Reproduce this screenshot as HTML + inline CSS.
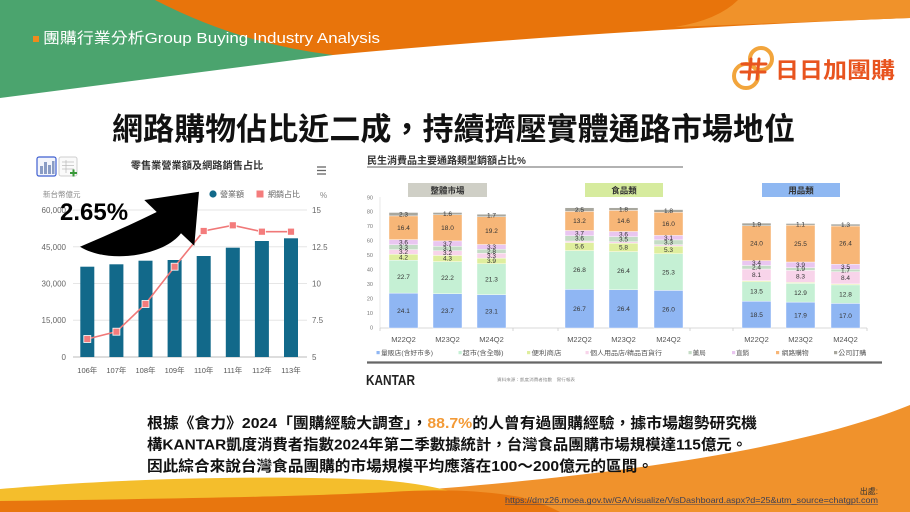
<!DOCTYPE html>
<html>
<head>
<meta charset="utf-8">
<style>
  html,body{margin:0;padding:0;background:#fff;}
  body{width:910px;height:512px;overflow:hidden;}
  svg{display:block;}
  .cjk{font-family:"Liberation Sans","Noto Sans CJK TC",sans-serif;}
</style>
</head>
<body>
<svg width="910" height="512" viewBox="0 0 910 512" xmlns="http://www.w3.org/2000/svg" class="cjk">
  <rect x="0" y="0" width="910" height="512" fill="#ffffff"/>

  <!-- ===== Header background ===== -->
  <path d="M0,0 L340,0 L333,55 L0,98 Z" fill="#4ba46e"/>
  <path d="M155,0 Q240,44 333,55 Q600,30 910,18 L910,0 Z" fill="#e8740b"/>
  <path d="M738,0 Q718,20 675,27 L910,18 L910,0 Z" fill="#f0922a"/>

  <rect x="33" y="36" width="6" height="6" fill="#f08a1c"/>
  <text x="43" y="43" font-size="15" fill="#ffffff" style="font-family:'Liberation Sans','Noto Sans CJK TC',sans-serif;" textLength="337" lengthAdjust="spacingAndGlyphs">團購行業分析Group Buying Industry Analysis</text>

  <!-- Logo -->
  <circle cx="761" cy="59" r="11" fill="none" stroke="#f2a53c" stroke-width="4"/>
  <circle cx="746" cy="76" r="12" fill="none" stroke="#f2a53c" stroke-width="4"/>
  <g stroke="#e8541f" stroke-width="3" stroke-linecap="round">
    <line x1="751" y1="59" x2="749" y2="79"/>
    <line x1="759" y1="59" x2="757" y2="79"/>
    <line x1="742" y1="64" x2="766" y2="64"/>
    <line x1="741" y1="72" x2="765" y2="72"/>
  </g>
  <text x="775" y="78" font-size="22" font-weight="bold" fill="#e8541f" textLength="120" lengthAdjust="spacingAndGlyphs">日日加團購</text>

  <!-- Title -->
  <text x="112" y="140" font-size="31" font-weight="bold" fill="#111" textLength="683" lengthAdjust="spacingAndGlyphs">網路購物佔比近二成，持續擠壓實體通路市場地位</text>

  <!-- ===== Left chart ===== -->
  <rect x="37" y="157" width="19" height="19" rx="2" fill="#f3f5fb" stroke="#3f5fd0" stroke-width="1.2"/>
  <rect x="40" y="166" width="3" height="8" fill="#8a9cc4"/>
  <rect x="44" y="162" width="3" height="12" fill="#8a9cc4"/>
  <rect x="48" y="165" width="3" height="9" fill="#8a9cc4"/>
  <rect x="52" y="161" width="2.5" height="13" fill="#8a9cc4"/>
  <rect x="59" y="157" width="18" height="19" rx="2" fill="#fafafa" stroke="#cfcfcf" stroke-width="1"/>
  <g stroke="#b8b8b8" stroke-width="0.7">
    <line x1="62" y1="162" x2="74" y2="162"/>
    <line x1="62" y1="165.5" x2="74" y2="165.5"/>
    <line x1="62" y1="169" x2="74" y2="169"/>
    <line x1="66" y1="160" x2="66" y2="173"/>
  </g>
  <g stroke="#3a9a3a" stroke-width="2">
    <line x1="70" y1="173" x2="77" y2="173"/>
    <line x1="73.5" y1="169.5" x2="73.5" y2="176.5"/>
  </g>

  <text x="197" y="169" font-size="10.2" font-weight="bold" fill="#333" text-anchor="middle">零售業營業額及網路銷售占比</text>
  <g stroke="#666" stroke-width="1.3">
    <line x1="317" y1="167" x2="326" y2="167"/>
    <line x1="317" y1="170.5" x2="326" y2="170.5"/>
    <line x1="317" y1="174" x2="326" y2="174"/>
  </g>

  <text x="43" y="197" font-size="7.5" fill="#888">新台幣億元</text>
  <text x="320" y="198" font-size="8" fill="#888">%</text>
  <circle cx="213" cy="194" r="3.6" fill="#12698a"/>
  <text x="220" y="197" font-size="8" fill="#666">營業額</text>
  <rect x="256.5" y="190.5" width="7" height="7" fill="#f47c7c"/>
  <text x="268" y="197" font-size="8" fill="#666">網銷占比</text>

  <g stroke="#e6e6e6" stroke-width="1">
    <line x1="73" y1="210" x2="307" y2="210"/>
    <line x1="73" y1="246.75" x2="307" y2="246.75"/>
    <line x1="73" y1="283.5" x2="307" y2="283.5"/>
    <line x1="73" y1="320.25" x2="307" y2="320.25"/>
  </g>
  <line x1="73" y1="357" x2="307" y2="357" stroke="#bbbbbb" stroke-width="1"/>

  <g font-size="8" fill="#666" text-anchor="end">
    <text x="66" y="213">60,000</text>
    <text x="66" y="250">45,000</text>
    <text x="66" y="286.5">30,000</text>
    <text x="66" y="323">15,000</text>
    <text x="66" y="360">0</text>
  </g>
  <g font-size="8" fill="#666">
    <text x="312" y="213">15</text>
    <text x="312" y="250">12.5</text>
    <text x="312" y="286.5">10</text>
    <text x="312" y="323">7.5</text>
    <text x="312" y="360">5</text>
  </g>

  <g fill="#12698a">
    <rect x="80.3" y="266.7" width="14" height="90.3"/>
    <rect x="109.4" y="264.3" width="14" height="92.7"/>
    <rect x="138.5" y="260.7" width="14" height="96.3"/>
    <rect x="167.6" y="260" width="14" height="97"/>
    <rect x="196.7" y="256" width="14" height="101"/>
    <rect x="225.8" y="247.7" width="14" height="109.3"/>
    <rect x="254.9" y="241" width="14" height="116"/>
    <rect x="284" y="238.3" width="14" height="118.7"/>
  </g>
  <polyline points="87.3,339 116.4,331.7 145.5,304 174.6,266.7 203.7,231 232.8,225.3 261.9,231.7 291,231.7" fill="none" stroke="#f07878" stroke-width="1.6"/>
  <g fill="#f47c7c" stroke="#ffffff" stroke-width="0.8">
    <rect x="83.8" y="335.5" width="7" height="7"/>
    <rect x="112.9" y="328.2" width="7" height="7"/>
    <rect x="142" y="300.5" width="7" height="7"/>
    <rect x="171.1" y="263.2" width="7" height="7"/>
    <rect x="200.2" y="227.5" width="7" height="7"/>
    <rect x="229.3" y="221.8" width="7" height="7"/>
    <rect x="258.4" y="228.2" width="7" height="7"/>
    <rect x="287.5" y="228.2" width="7" height="7"/>
  </g>
  <g font-size="7.5" fill="#555" text-anchor="middle">
    <text x="87.3" y="373">106年</text>
    <text x="116.4" y="373">107年</text>
    <text x="145.5" y="373">108年</text>
    <text x="174.6" y="373">109年</text>
    <text x="203.7" y="373">110年</text>
    <text x="232.8" y="373">111年</text>
    <text x="261.9" y="373">112年</text>
    <text x="291" y="373">113年</text>
  </g>

  <path d="M80,246.7 Q120,230 156.7,212 L144.3,200 L199,191.7 L194.3,245.7 L181,233.3 C165,255 110,265 80,246.7 Z" fill="#000"/>
  <text x="60" y="220" style="font-family:'Liberation Sans',sans-serif;" font-size="24" font-weight="bold" fill="#000">2.65%</text>

  <!-- ===== Right chart ===== -->
  <text x="367" y="164" font-size="10" font-weight="bold" fill="#333">民生消費品主要通路類型銷額占比%</text>
  <line x1="367" y1="167" x2="683" y2="167" stroke="#666" stroke-width="1"/>

  <rect x="408" y="183" width="79" height="14" fill="#cfcfc6"/>
  <text x="447.5" y="193.5" font-size="8.5" font-weight="bold" fill="#333" text-anchor="middle">整體市場</text>
  <rect x="585" y="183" width="78" height="14" fill="#d6eb9e"/>
  <text x="624" y="193.5" font-size="8.5" font-weight="bold" fill="#333" text-anchor="middle">食品類</text>
  <rect x="762" y="183" width="78" height="14" fill="#8fb8f2"/>
  <text x="801" y="193.5" font-size="8.5" font-weight="bold" fill="#333" text-anchor="middle">用品類</text>

  <g font-size="5.5" fill="#777" text-anchor="end">
    <text x="373" y="199.3">90</text>
    <text x="373" y="213.7">80</text>
    <text x="373" y="228.2">70</text>
    <text x="373" y="242.7">60</text>
    <text x="373" y="257.1">50</text>
    <text x="373" y="271.6">40</text>
    <text x="373" y="286">30</text>
    <text x="373" y="300.5">20</text>
    <text x="373" y="315">10</text>
    <text x="373" y="329.5">0</text>
  </g>
  <line x1="380" y1="197" x2="380" y2="328" stroke="#e2e2e2" stroke-width="0.8"/>
  <line x1="380" y1="328" x2="867" y2="328" stroke="#cccccc" stroke-width="0.8"/>
  <g stroke="#cccccc" stroke-width="0.8">
    <line x1="380" y1="328" x2="380" y2="331"/>
    <line x1="513" y1="328" x2="513" y2="331"/>
    <line x1="558" y1="328" x2="558" y2="331"/>
    <line x1="690" y1="328" x2="690" y2="331"/>
    <line x1="733" y1="328" x2="733" y2="331"/>
    <line x1="867" y1="328" x2="867" y2="331"/>
  </g>

  <g stroke="#ffffff" stroke-width="0.4">
    <rect x="389" y="293.1" width="29" height="34.9" fill="#8fb6f3"/>
    <rect x="389" y="260.3" width="29" height="32.8" fill="#c5f0d4"/>
    <rect x="389" y="254.2" width="29" height="6.1" fill="#dfee9e"/>
    <rect x="389" y="249.6" width="29" height="4.6" fill="#f8d4ea"/>
    <rect x="389" y="244.8" width="29" height="4.8" fill="#c5dcc6"/>
    <rect x="389" y="239.6" width="29" height="5.2" fill="#e9c6f0"/>
    <rect x="389" y="215.9" width="29" height="23.7" fill="#f7b677"/>
    <rect x="389" y="212.5" width="29" height="3.4" fill="#a8a79e"/>

    <rect x="433" y="293.7" width="29" height="34.3" fill="#8fb6f3"/>
    <rect x="433" y="261.6" width="29" height="32.1" fill="#c5f0d4"/>
    <rect x="433" y="255.4" width="29" height="6.2" fill="#dfee9e"/>
    <rect x="433" y="250.7" width="29" height="4.7" fill="#f8d4ea"/>
    <rect x="433" y="246.2" width="29" height="4.5" fill="#c5dcc6"/>
    <rect x="433" y="240.9" width="29" height="5.3" fill="#e9c6f0"/>
    <rect x="433" y="214.8" width="29" height="26.1" fill="#f7b677"/>
    <rect x="433" y="212.5" width="29" height="2.3" fill="#a8a79e"/>

    <rect x="477" y="294.6" width="29" height="33.4" fill="#8fb6f3"/>
    <rect x="477" y="263.8" width="29" height="30.8" fill="#c5f0d4"/>
    <rect x="477" y="258.1" width="29" height="5.7" fill="#dfee9e"/>
    <rect x="477" y="253.3" width="29" height="4.8" fill="#f8d4ea"/>
    <rect x="477" y="249.3" width="29" height="4.0" fill="#c5dcc6"/>
    <rect x="477" y="244.5" width="29" height="4.8" fill="#e9c6f0"/>
    <rect x="477" y="216.7" width="29" height="27.8" fill="#f7b677"/>
    <rect x="477" y="214.3" width="29" height="2.4" fill="#a8a79e"/>

    <rect x="565" y="289.4" width="29" height="38.6" fill="#8fb6f3"/>
    <rect x="565" y="250.6" width="29" height="38.8" fill="#c5f0d4"/>
    <rect x="565" y="242.5" width="29" height="8.1" fill="#dfee9e"/>
    <rect x="565" y="241.0" width="29" height="1.5" fill="#f8d4ea"/>
    <rect x="565" y="235.8" width="29" height="5.2" fill="#c5dcc6"/>
    <rect x="565" y="230.5" width="29" height="5.3" fill="#e9c6f0"/>
    <rect x="565" y="211.4" width="29" height="19.1" fill="#f7b677"/>
    <rect x="565" y="207.8" width="29" height="3.6" fill="#a8a79e"/>

    <rect x="609" y="289.8" width="29" height="38.2" fill="#8fb6f3"/>
    <rect x="609" y="251.6" width="29" height="38.2" fill="#c5f0d4"/>
    <rect x="609" y="243.2" width="29" height="8.4" fill="#dfee9e"/>
    <rect x="609" y="241.8" width="29" height="1.4" fill="#f8d4ea"/>
    <rect x="609" y="236.7" width="29" height="5.1" fill="#c5dcc6"/>
    <rect x="609" y="231.5" width="29" height="5.2" fill="#e9c6f0"/>
    <rect x="609" y="210.4" width="29" height="21.1" fill="#f7b677"/>
    <rect x="609" y="207.8" width="29" height="2.6" fill="#a8a79e"/>

    <rect x="654" y="290.4" width="29" height="37.6" fill="#8fb6f3"/>
    <rect x="654" y="253.8" width="29" height="36.6" fill="#c5f0d4"/>
    <rect x="654" y="246.1" width="29" height="7.7" fill="#dfee9e"/>
    <rect x="654" y="244.7" width="29" height="1.4" fill="#f8d4ea"/>
    <rect x="654" y="239.9" width="29" height="4.8" fill="#c5dcc6"/>
    <rect x="654" y="235.4" width="29" height="4.5" fill="#e9c6f0"/>
    <rect x="654" y="212.2" width="29" height="23.2" fill="#f7b677"/>
    <rect x="654" y="209.6" width="29" height="2.6" fill="#a8a79e"/>

    <rect x="742" y="301.2" width="29" height="26.8" fill="#8fb6f3"/>
    <rect x="742" y="281.7" width="29" height="19.5" fill="#c5f0d4"/>
    <rect x="742" y="280.7" width="29" height="1.0" fill="#dfee9e"/>
    <rect x="742" y="269.0" width="29" height="11.7" fill="#f8d4ea"/>
    <rect x="742" y="265.5" width="29" height="3.5" fill="#c5dcc6"/>
    <rect x="742" y="260.6" width="29" height="4.9" fill="#e9c6f0"/>
    <rect x="742" y="225.8" width="29" height="34.8" fill="#f7b677"/>
    <rect x="742" y="223.1" width="29" height="2.7" fill="#a8a79e"/>

    <rect x="786" y="302.1" width="29" height="25.9" fill="#8fb6f3"/>
    <rect x="786" y="283.4" width="29" height="18.7" fill="#c5f0d4"/>
    <rect x="786" y="282.4" width="29" height="1.0" fill="#dfee9e"/>
    <rect x="786" y="270.4" width="29" height="12.0" fill="#f8d4ea"/>
    <rect x="786" y="267.7" width="29" height="2.7" fill="#c5dcc6"/>
    <rect x="786" y="262.0" width="29" height="5.7" fill="#e9c6f0"/>
    <rect x="786" y="225.1" width="29" height="36.9" fill="#f7b677"/>
    <rect x="786" y="223.5" width="29" height="1.6" fill="#a8a79e"/>

    <rect x="831" y="303.4" width="29" height="24.6" fill="#8fb6f3"/>
    <rect x="831" y="284.9" width="29" height="18.5" fill="#c5f0d4"/>
    <rect x="831" y="283.9" width="29" height="1.0" fill="#dfee9e"/>
    <rect x="831" y="271.7" width="29" height="12.2" fill="#f8d4ea"/>
    <rect x="831" y="269.3" width="29" height="2.4" fill="#c5dcc6"/>
    <rect x="831" y="264.2" width="29" height="5.1" fill="#e9c6f0"/>
    <rect x="831" y="226.0" width="29" height="38.2" fill="#f7b677"/>
    <rect x="831" y="224.1" width="29" height="1.9" fill="#a8a79e"/>
  </g>

  <g font-size="6.5" fill="#333" text-anchor="middle" style="font-family:'Liberation Sans',sans-serif;">
    <text x="403.5" y="312.8">24.1</text>
    <text x="403.5" y="278.9">22.7</text>
    <text x="403.5" y="259.4">4.2</text>
    <text x="403.5" y="254.1">3.2</text>
    <text x="403.5" y="249.4">3.3</text>
    <text x="403.5" y="244.4">3.6</text>
    <text x="403.5" y="229.9">16.4</text>
    <text x="403.5" y="216.4">2.3</text>

    <text x="447.5" y="313.1">23.7</text>
    <text x="447.5" y="279.8">22.2</text>
    <text x="447.5" y="260.7">4.3</text>
    <text x="447.5" y="255.2">3.2</text>
    <text x="447.5" y="250.7">3.1</text>
    <text x="447.5" y="245.8">3.7</text>
    <text x="447.5" y="230.1">18.0</text>
    <text x="447.5" y="215.9">1.6</text>

    <text x="491.5" y="313.5">23.1</text>
    <text x="491.5" y="281.4">21.3</text>
    <text x="491.5" y="263.1">3.9</text>
    <text x="491.5" y="257.9">3.3</text>
    <text x="491.5" y="253.5">2.8</text>
    <text x="491.5" y="249.1">3.3</text>
    <text x="491.5" y="232.8">19.2</text>
    <text x="491.5" y="217.7">1.7</text>

    <text x="579.5" y="310.9">26.7</text>
    <text x="579.5" y="272.2">26.8</text>
    <text x="579.5" y="248.7">5.6</text>
    <text x="579.5" y="240.6">3.6</text>
    <text x="579.5" y="235.4">3.7</text>
    <text x="579.5" y="223.1">13.2</text>
    <text x="579.5" y="211.8">2.5</text>

    <text x="623.5" y="311.1">26.4</text>
    <text x="623.5" y="272.9">26.4</text>
    <text x="623.5" y="249.6">5.8</text>
    <text x="623.5" y="241.4">3.5</text>
    <text x="623.5" y="236.3">3.6</text>
    <text x="623.5" y="223.1">14.6</text>
    <text x="623.5" y="211.3">1.8</text>

    <text x="668.5" y="311.4">26.0</text>
    <text x="668.5" y="274.3">25.3</text>
    <text x="668.5" y="252.2">5.3</text>
    <text x="668.5" y="244.5">3.3</text>
    <text x="668.5" y="239.9">3.1</text>
    <text x="668.5" y="226.0">16.0</text>
    <text x="668.5" y="213.1">1.8</text>

    <text x="756.5" y="316.8">18.5</text>
    <text x="756.5" y="293.7">13.5</text>
    <text x="756.5" y="277.0">8.1</text>
    <text x="756.5" y="269.4">2.4</text>
    <text x="756.5" y="265.2">3.4</text>
    <text x="756.5" y="245.4">24.0</text>
    <text x="756.5" y="226.7">1.9</text>

    <text x="800.5" y="317.3">17.9</text>
    <text x="800.5" y="295.0">12.9</text>
    <text x="800.5" y="278.6">8.3</text>
    <text x="800.5" y="271.2">1.9</text>
    <text x="800.5" y="267.0">3.9</text>
    <text x="800.5" y="245.8">25.5</text>
    <text x="800.5" y="226.5">1.1</text>

    <text x="845.5" y="317.9">17.0</text>
    <text x="845.5" y="296.6">12.8</text>
    <text x="845.5" y="280.0">8.4</text>
    <text x="845.5" y="272.7">1.7</text>
    <text x="845.5" y="268.9">3.5</text>
    <text x="845.5" y="245.3">26.4</text>
    <text x="845.5" y="227.2">1.3</text>
  </g>

  <g font-size="7.5" fill="#555" text-anchor="middle" style="font-family:'Liberation Sans',sans-serif;">
    <text x="403.5" y="342">M22Q2</text>
    <text x="447.5" y="342">M23Q2</text>
    <text x="491.5" y="342">M24Q2</text>
    <text x="579.5" y="342">M22Q2</text>
    <text x="623.5" y="342">M23Q2</text>
    <text x="668.5" y="342">M24Q2</text>
    <text x="756.5" y="342">M22Q2</text>
    <text x="800.5" y="342">M23Q2</text>
    <text x="845.5" y="342">M24Q2</text>
  </g>

  <rect x="376.5" y="351" width="3.2" height="3.2" fill="#8fb6f3"/>
  <rect x="458.5" y="351" width="3.2" height="3.2" fill="#c5f0d4"/>
  <rect x="527" y="351" width="3.2" height="3.2" fill="#dfee9e"/>
  <rect x="585.5" y="351" width="3.2" height="3.2" fill="#f8d4ea"/>
  <rect x="688.5" y="351" width="3.2" height="3.2" fill="#c5dcc6"/>
  <rect x="732" y="351" width="3.2" height="3.2" fill="#e9c6f0"/>
  <rect x="776" y="351" width="3.2" height="3.2" fill="#f7b677"/>
  <rect x="834" y="351" width="3.2" height="3.2" fill="#a8a79e"/>
  <g font-size="6.5" fill="#555">
    <text x="381" y="355" textLength="52" lengthAdjust="spacingAndGlyphs">量販店(含好市多)</text>
    <text x="462.5" y="355" textLength="41" lengthAdjust="spacingAndGlyphs">超市(含全聯)</text>
    <text x="531.5" y="355" textLength="30" lengthAdjust="spacingAndGlyphs">便利商店</text>
    <text x="590" y="355" textLength="72" lengthAdjust="spacingAndGlyphs">個人用品店/精品百貨行</text>
    <text x="692.7" y="355" textLength="13" lengthAdjust="spacingAndGlyphs">藥局</text>
    <text x="736" y="355" textLength="13" lengthAdjust="spacingAndGlyphs">直銷</text>
    <text x="781.7" y="355" textLength="27" lengthAdjust="spacingAndGlyphs">網路購物</text>
    <text x="838.3" y="355" textLength="28" lengthAdjust="spacingAndGlyphs">公司訂購</text>
  </g>
  <line x1="367" y1="362.5" x2="882" y2="362.5" stroke="#666" stroke-width="2.2"/>

  <text x="366" y="385" style="font-family:'Liberation Sans',sans-serif;" font-size="15" font-weight="bold" fill="#222" textLength="49" lengthAdjust="spacingAndGlyphs">KANTAR</text>
  <text x="497" y="381" font-size="4" fill="#888" textLength="78" lengthAdjust="spacingAndGlyphs">資料來源：凱度消費者指數　實行報表</text>

  <!-- ===== Bottom background waves ===== -->
  <path d="M0,512 L0,497 C200,495 300,494 380,493 C600,478 800,450 910,405 L910,512 Z" fill="#f0922c"/>
  <path d="M0,512 L0,489 C100,480 250,474 380,480 C420,483 450,490 470,497 L470,512 Z" fill="#f4be2c"/>
  <path d="M0,512 L0,501 C150,499 300,497 390,492 C440,489 480,490 520,497 C540,502 550,507 560,512 Z" fill="#e8760e"/>

  <g font-size="15" font-weight="bold" fill="#111">
    <text x="147" y="428" textLength="610" lengthAdjust="spacingAndGlyphs">根據《食力》2024「團購經驗大調查」，<tspan fill="#f39a36">88.7%</tspan>的人曾有過團購經驗，據市場趨勢研究機</text>
    <text x="147" y="449.5" textLength="600" lengthAdjust="spacingAndGlyphs">構KANTAR凱度消費者指數2024年第二季數據統計，台灣食品團購市場規模達115億元。</text>
    <text x="147" y="471" textLength="506" lengthAdjust="spacingAndGlyphs">因此綜合來說台灣食品團購的市場規模平均應落在100～200億元的區間。</text>
  </g>

  <text x="878" y="494" font-size="8" fill="#333" text-anchor="end">出處:</text>
  <text x="505" y="503" style="font-family:'Liberation Sans',sans-serif;" font-size="8.5" fill="#3a3f55" textLength="373" lengthAdjust="spacingAndGlyphs">https://dmz26.moea.gov.tw/GA/visualize/VisDashboard.aspx?d=25&amp;utm_source=chatgpt.com</text>
  <line x1="505" y1="504.5" x2="878" y2="504.5" stroke="#3a3f55" stroke-width="0.6"/>
</svg>
</body>
</html>
